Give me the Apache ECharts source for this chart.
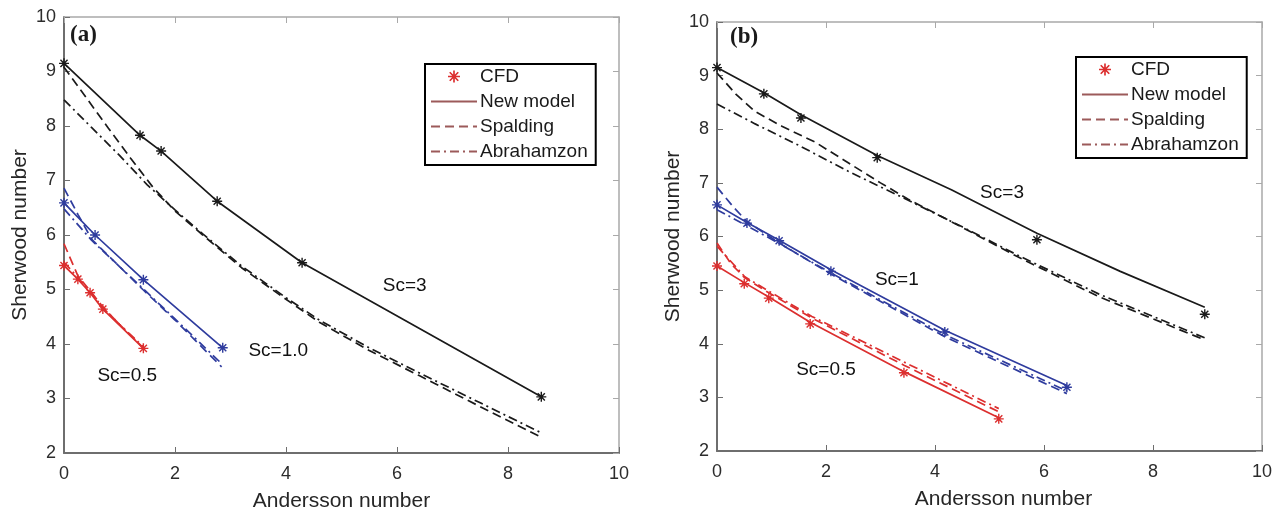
<!DOCTYPE html>
<html>
<head>
<meta charset="utf-8">
<script src="https://cdn.jsdelivr.net/npm/echarts@6/dist/echarts.min.js"></script>
<style>
  html, body { margin: 0; padding: 0; background: #ffffff; }
  #chart { width: 1283px; height: 515px; }
</style>
</head>
<body>
<div id="chart"></div>
<script>
// ---- Panel (a): [Andersson number, Sherwood number] ----
const aSc3Cfd       = [[0, 9.15], [1.37, 7.83], [1.75, 7.54], [2.76, 6.62], [4.29, 5.49], [8.6, 3.03]];
const aSc3Model     = [[0, 9.15], [1.37, 7.83], [1.75, 7.54], [2.76, 6.62], [4.29, 5.49], [8.6, 3.03]];
const aSc3Spalding  = [[0, 9.08], [0.4, 8.52], [0.8, 7.96], [1.2, 7.41], [1.6, 6.88], [2.0, 6.44], [2.5, 6.0], [3.2, 5.4], [4.0, 4.82], [4.6, 4.4], [5.5, 3.88], [6.4, 3.42], [7.5, 2.85], [8.6, 2.29]];
const aSc3Abraham   = [[0, 8.48], [0.5, 7.97], [1.0, 7.46], [1.5, 6.92], [2.0, 6.46], [2.5, 6.02], [3.2, 5.43], [4.0, 4.85], [4.6, 4.44], [5.5, 3.93], [6.4, 3.47], [7.5, 2.92], [8.6, 2.37]];

const aSc1Cfd       = [[0, 6.59], [0.56, 6.0], [1.43, 5.18], [2.86, 3.93]];
const aSc1Model     = [[0, 6.59], [0.56, 6.0], [1.43, 5.18], [2.86, 3.93]];
const aSc1Spalding  = [[0, 6.86], [0.25, 6.38], [0.5, 5.92], [1.0, 5.42], [1.42, 5.0], [2.0, 4.44], [2.84, 3.58]];
const aSc1Abraham   = [[0, 6.48], [0.5, 5.9], [1.0, 5.42], [1.42, 5.02], [2.0, 4.46], [2.84, 3.64]];

const aSc05Cfd      = [[0, 5.44], [0.25, 5.19], [0.47, 4.94], [0.7, 4.64], [1.43, 3.92]];
const aSc05Model    = [[0, 5.44], [0.25, 5.19], [0.47, 4.94], [0.7, 4.64], [1.43, 3.92]];
const aSc05Spalding = [[0, 5.84], [0.25, 5.25], [0.47, 4.98], [0.7, 4.68], [1.0, 4.36], [1.43, 3.93]];
const aSc05Abraham  = [[0, 5.5], [0.25, 5.22], [0.47, 4.96], [0.7, 4.67], [1.0, 4.36], [1.43, 3.95]];

const aNotes = [[6.14, 5.06, 'Sc=3'], [3.86, 3.87, 'Sc=1.0'], [1.14, 3.41, 'Sc=0.5']];

// ---- Panel (b) ----
const bSc3Cfd       = [[0, 9.15], [0.86, 8.66], [1.54, 8.21], [2.94, 7.47], [5.87, 5.94], [8.95, 4.55]];
const bSc3Model     = [[0, 9.15], [0.86, 8.68], [1.54, 8.27], [2.94, 7.51], [4.3, 6.87], [5.87, 6.06], [7.4, 5.35], [8.95, 4.68]];
const bSc3Spalding  = [[0, 9.05], [0.35, 8.65], [0.7, 8.33], [1.2, 8.05], [1.8, 7.76], [2.4, 7.38], [3.0, 7.0], [3.5, 6.7], [4.5, 6.17], [5.5, 5.63], [7.0, 4.88], [8.95, 4.07]];
const bSc3Abraham   = [[0, 8.47], [0.7, 8.1], [1.5, 7.7], [2.4, 7.22], [3.5, 6.68], [4.5, 6.18], [5.5, 5.66], [7.0, 4.93], [8.95, 4.11]];

const bSc1Cfd       = [[0, 6.59], [0.55, 6.25], [1.14, 5.92], [2.09, 5.35], [4.18, 4.22], [6.42, 3.19]];
const bSc1Model     = [[0, 6.59], [0.55, 6.26], [1.14, 5.93], [2.09, 5.38], [4.18, 4.25], [6.42, 3.22]];
const bSc1Spalding  = [[0, 6.92], [0.3, 6.55], [0.55, 6.28], [1.14, 5.88], [2.09, 5.3], [4.18, 4.13], [6.42, 3.07]];
const bSc1Abraham   = [[0, 6.5], [0.55, 6.2], [1.14, 5.87], [2.09, 5.32], [4.18, 4.17], [6.42, 3.12]];

const bSc05Cfd      = [[0, 5.45], [0.5, 5.12], [0.95, 4.85], [1.71, 4.37], [3.43, 3.46], [5.17, 2.6]];
const bSc05Model    = [[0, 5.45], [0.5, 5.14], [0.95, 4.87], [1.71, 4.4], [3.43, 3.48], [5.17, 2.62]];
const bSc05Spalding = [[0, 5.88], [0.25, 5.5], [0.51, 5.23], [0.95, 4.95], [1.74, 4.48], [3.43, 3.6], [5.17, 2.73]];
const bSc05Abraham  = [[0, 5.82], [0.51, 5.25], [0.95, 4.98], [1.74, 4.51], [3.43, 3.66], [5.17, 2.79]];

const bNotes = [[5.23, 6.81, 'Sc=3'], [3.30, 5.19, 'Sc=1'], [2.0, 3.51, 'Sc=0.5']];

// ---- Axes and legend text ----
const xName = 'Andersson number';
const yName = 'Sherwood number';
const panelTags = ['(a)', '(b)'];
const legendNames = ['CFD', 'New model', 'Spalding', 'Abrahamzon'];

// ---- Styling ----
const SANS = '"Liberation Sans", Arial, Helvetica, sans-serif';
const SERIF = '"Liberation Serif", "Times New Roman", serif';
const BLACK = '#1a1a1a', BLUE = '#2f3c9e', RED = '#dc2f2f', LEGEND_LINE = '#9c5a5a';
const DASH = [9, 5];
const DASHDOT = [9, 4, 2, 4];
const AXIS_DARK = '#6e6e6e', AXIS_LIGHT = '#a9a9a9';
// eight-armed asterisk marker
const STAR = 'path://M-1.4,-10L1.4,-10L1.4,10L-1.4,10Z M-10,-1.4L10,-1.4L10,1.4L-10,1.4Z ' +
  'M-6.1,-8.1L8.1,6.1L6.1,8.1L-8.1,-6.1Z M6.1,-8.1L8.1,-6.1L-6.1,8.1L-8.1,6.1Z';

const panels = [
  { grid: { left: 64, top: 17, width: 555, height: 436 }, legend: { left: 425, top: 64 },
    tag: { left: 70, top: 24 }, xNamePad: 0, notes: aNotes,
    sets: [
      { color: BLACK, cfd: aSc3Cfd, model: aSc3Model, spalding: aSc3Spalding, abraham: aSc3Abraham },
      { color: BLUE, cfd: aSc1Cfd, model: aSc1Model, spalding: aSc1Spalding, abraham: aSc1Abraham },
      { color: RED, cfd: aSc05Cfd, model: aSc05Model, spalding: aSc05Spalding, abraham: aSc05Abraham }
    ] },
  { grid: { left: 717, top: 22, width: 545, height: 429 }, legend: { left: 1076, top: 57 },
    tag: { left: 730, top: 26 }, xNamePad: 28, notes: bNotes,
    sets: [
      { color: BLACK, cfd: bSc3Cfd, model: bSc3Model, spalding: bSc3Spalding, abraham: bSc3Abraham },
      { color: BLUE, cfd: bSc1Cfd, model: bSc1Model, spalding: bSc1Spalding, abraham: bSc1Abraham },
      { color: RED, cfd: bSc05Cfd, model: bSc05Model, spalding: bSc05Spalding, abraham: bSc05Abraham }
    ] }
];

const grids = [], xAxes = [], yAxes = [], series = [], legends = [], graphics = [];

function boxAxis(kind, gi, pos, main) {
  const col = main ? AXIS_DARK : AXIS_LIGHT;
  const isX = kind === 'x';
  const ax = {
    type: 'value', gridIndex: gi, position: pos,
    min: isX ? 0 : 2, max: 10, interval: isX ? 2 : 1,
    splitLine: { show: false },
    axisLine: { show: true, onZero: false, lineStyle: { color: col, width: main ? 2 : 1.5 } },
    axisTick: { show: true, inside: true, length: 6, lineStyle: { color: col, width: 1 } },
    axisLabel: {
      show: main, fontSize: 18, color: '#2c2c2c', fontFamily: SANS, margin: isX ? 12 : 8
    }
  };
  if (main) {
    ax.name = isX ? xName : yName;
    ax.nameLocation = 'middle';
    ax.nameGap = isX ? 38 : 33;
    ax.nameTextStyle = { fontSize: 21, color: '#262626', fontFamily: SANS };
  }
  return ax;
}

// legend-only entries (empty data) carrying the legend styles
const legendSeries = [
  { type: 'scatter', name: 'CFD', data: [], symbol: STAR, symbolSize: 11,
    itemStyle: { color: RED, opacity: 1 }, xAxisIndex: 0, yAxisIndex: 0 },
  { type: 'line', name: 'New model', data: [], symbol: 'none',
    lineStyle: { color: LEGEND_LINE, width: 1.6, type: 'solid' }, itemStyle: { color: LEGEND_LINE }, xAxisIndex: 0, yAxisIndex: 0 },
  { type: 'line', name: 'Spalding', data: [], symbol: 'none',
    lineStyle: { color: LEGEND_LINE, width: 1.6, type: DASH }, itemStyle: { color: LEGEND_LINE }, xAxisIndex: 0, yAxisIndex: 0 },
  { type: 'line', name: 'Abrahamzon', data: [], symbol: 'none',
    lineStyle: { color: LEGEND_LINE, width: 1.6, type: DASHDOT }, itemStyle: { color: LEGEND_LINE }, xAxisIndex: 0, yAxisIndex: 0 }
];
series.push(...legendSeries);

// line entries show only their stroke in the legend, no centre marker
const legendData = legendNames.map((n) => n === 'CFD' ? { name: n } : {
  name: n, itemStyle: { color: 'rgba(0,0,0,0)', borderColor: 'rgba(0,0,0,0)', borderWidth: 0 }
});

panels.forEach((p, gi) => {
  grids.push(Object.assign({ containLabel: false, outerBoundsMode: 'none' }, p.grid));
  const xb = boxAxis('x', gi, 'bottom', true);
  if (p.xNamePad) xb.nameTextStyle.padding = [0, 0, 0, p.xNamePad];
  xAxes.push(xb, boxAxis('x', gi, 'top', false));
  yAxes.push(boxAxis('y', gi, 'left', true), boxAxis('y', gi, 'right', false));
  const xi = 2 * gi, yi = 2 * gi;

  p.sets.forEach((s, si) => {
    const base = { xAxisIndex: xi, yAxisIndex: yi, silent: true, animation: false };
    const line = (key, type, data) => Object.assign({
      type: 'line', name: 'p' + gi + 's' + si + key, data, symbol: 'none', showSymbol: false,
      lineStyle: { color: s.color, width: 1.7, type }, itemStyle: { color: s.color }, z: 2
    }, base);
    series.push(line('abraham', DASHDOT, s.abraham));
    series.push(line('spalding', DASH, s.spalding));
    series.push(line('model', 'solid', s.model));
    series.push(Object.assign({
      type: 'scatter', name: 'p' + gi + 's' + si + 'cfd', data: s.cfd,
      symbol: STAR, symbolSize: 10, itemStyle: { color: s.color, opacity: 1 }, z: 3
    }, base));
  });

  series.push({
    type: 'scatter', name: 'p' + gi + 'notes', data: p.notes, xAxisIndex: xi, yAxisIndex: yi,
    symbolSize: 0, silent: true, animation: false, itemStyle: { opacity: 1 },
    label: {
      show: true, position: 'inside', formatter: (d) => d.value[2],
      fontSize: 19, color: '#111111', fontFamily: SANS, opacity: 1
    }
  });

  legends.push({
    data: legendData, orient: 'vertical', left: p.legend.left, top: p.legend.top,
    itemWidth: 46, itemHeight: 12, itemGap: 6, padding: [3, 8, 4, 5],
    borderColor: '#000000', borderWidth: 2, backgroundColor: '#ffffff',
    selectedMode: false,
    textStyle: { fontSize: 19, color: '#1a1a1a', fontFamily: SANS, padding: [0, 0, 0, -2] }
  });

  graphics.push({
    type: 'text', left: p.tag.left, top: p.tag.top,
    style: { text: panelTags[gi], font: 'bold 23px ' + SERIF, fill: '#1a1a1a' }
  });
});

const chart = echarts.init(document.getElementById('chart'), null, { renderer: 'canvas' });
chart.setOption({
  backgroundColor: '#ffffff',
  animation: false,
  grid: grids,
  xAxis: xAxes,
  yAxis: yAxes,
  legend: legends,
  graphic: graphics,
  series: series
});
</script>
</body>
</html>
